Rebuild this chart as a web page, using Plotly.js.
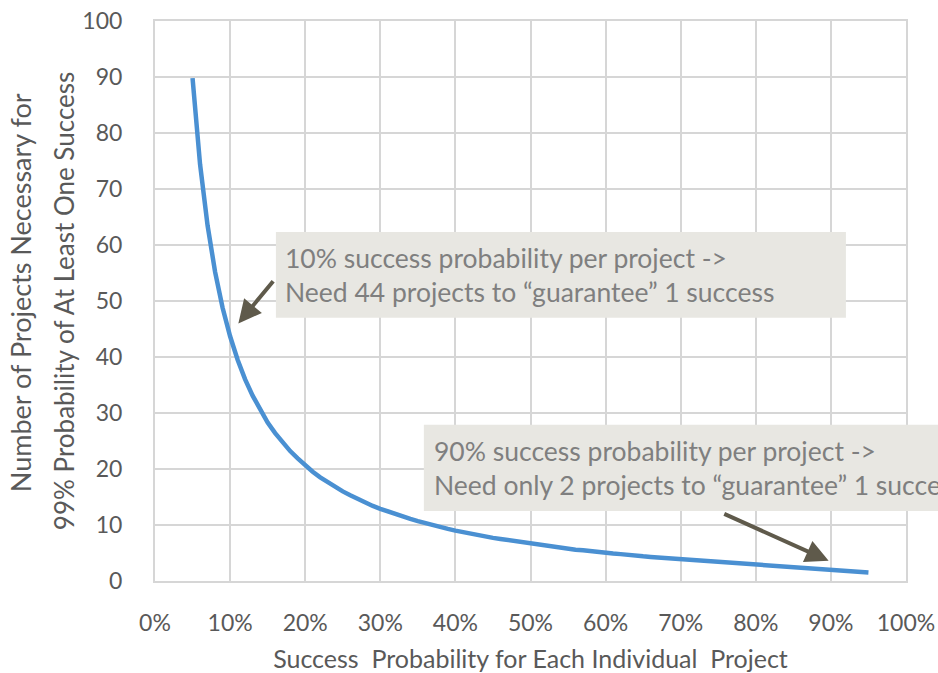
<!DOCTYPE html>
<html>
<head>
<meta charset="utf-8">
<script src="https://cdn.plot.ly/plotly-3.0.1.min.js"></script>
<style>html,body{margin:0;padding:0;background:#fff;}#chart{width:938px;height:673px;}</style>
</head>
<body>
<div id="chart"></div>
<script>
var successProb = [0.05,0.06,0.07,0.08,0.09,0.10,0.11,0.12,0.13,0.14,0.15,0.16,0.17,0.18,0.19,0.20,0.21,0.22,0.23,0.24,0.25,0.26,0.27,0.28,0.29,0.30,0.31,0.32,0.33,0.34,0.35,0.36,0.37,0.38,0.39,0.40,0.41,0.42,0.43,0.44,0.45,0.46,0.47,0.48,0.49,0.50,0.51,0.52,0.53,0.54,0.55,0.56,0.57,0.58,0.59,0.60,0.61,0.62,0.63,0.64,0.65,0.66,0.67,0.68,0.69,0.70,0.71,0.72,0.73,0.74,0.75,0.76,0.77,0.78,0.79,0.80,0.81,0.82,0.83,0.84,0.85,0.86,0.87,0.88,0.89,0.90,0.91,0.92,0.93,0.94,0.95];
var projectsNeeded = [89.8,74.4,63.5,55.2,48.8,43.7,39.5,36.0,33.1,30.5,28.3,26.4,24.7,23.2,21.9,20.6,19.5,18.5,17.6,16.8,16.0,15.3,14.6,14.0,13.4,12.9,12.4,11.9,11.5,11.1,10.7,10.3,10.0,9.6,9.3,9.0,8.7,8.5,8.2,7.9,7.7,7.5,7.3,7.0,6.8,6.6,6.5,6.3,6.1,5.9,5.8,5.6,5.5,5.3,5.2,5.0,4.9,4.8,4.6,4.5,4.4,4.3,4.2,4.0,3.9,3.8,3.7,3.6,3.5,3.4,3.3,3.2,3.1,3.0,3.0,2.9,2.8,2.7,2.6,2.5,2.4,2.3,2.3,2.2,2.1,2.0,1.9,1.8,1.7,1.6,1.5];
var xTickVals = [0,0.1,0.2,0.3,0.4,0.5,0.6,0.7,0.8,0.9,1.0];
var xTickText = ["0%","10%","20%","30%","40%","50%","60%","70%","80%","90%","100%"];
var yTickVals = [0,10,20,30,40,50,60,70,80,90,100];
var xTitle = "Success&nbsp; Probability for Each Individual&nbsp; Project";
var yTitleLine1 = "Number of Projects Necessary for";
var yTitleLine2 = "99% Probability of At Least One Success";
var note1 = "10% success probability per project -><br>Need 44 projects to “guarantee” 1 success";
var note2 = "90% success probability per project -><br>Need only 2 projects to “guarantee” 1 success";

var FONT = "Lato, Open Sans, sans-serif";
var trace = {
  x: successProb, y: projectsNeeded, type: "scatter", mode: "lines",
  line: {color: "#4a90d2", width: 4.5}, hoverinfo: "skip"
};
var layout = {
  width: 938, height: 673,
  margin: {l: 155, r: 32, t: 21, b: 92},
  paper_bgcolor: "#ffffff", plot_bgcolor: "#ffffff",
  showlegend: false,
  font: {family: FONT, color: "#595959"},
  xaxis: {
    range: [0, 1], tickvals: xTickVals, ticktext: xTickText,
    showgrid: true, gridcolor: "#d6d6d6", gridwidth: 2,
    showline: true, linecolor: "#d6d6d6", linewidth: 2, mirror: true,
    zeroline: false, ticks: "", ticklabelstandoff: 20,
    tickfont: {size: 23, color: "#595959", family: FONT},
    title: {text: xTitle, font: {size: 25, color: "#595959", family: FONT}, standoff: 16}
  },
  yaxis: {
    range: [0, 100], tickvals: yTickVals,
    showgrid: true, gridcolor: "#d6d6d6", gridwidth: 2,
    showline: true, linecolor: "#d6d6d6", linewidth: 2, mirror: true,
    zeroline: false, ticks: "", ticklabelstandoff: 26,
    tickfont: {size: 23, color: "#595959", family: FONT}
  },
  shapes: [
    {type: "rect", xref: "paper", yref: "paper", x0: 0.161, x1: 0.92, y0: 0.470, y1: 0.623, fillcolor: "#e8e7e2", line: {width: 0}, layer: "above"},
    {type: "rect", xref: "paper", yref: "paper", x0: 0.358, x1: 1.2, y0: 0.125, y1: 0.279, fillcolor: "#e8e7e2", line: {width: 0}, layer: "above"}
  ],
  annotations: [
    {xref: "paper", yref: "paper", x: -0.179, y: 0.515, text: yTitleLine1, showarrow: false, textangle: -90,
     xanchor: "center", yanchor: "middle", font: {size: 27, color: "#595959", family: FONT}},
    {xref: "paper", yref: "paper", x: -0.121, y: 0.50, text: yTitleLine2, showarrow: false, textangle: -90,
     xanchor: "center", yanchor: "middle", font: {size: 26, color: "#595959", family: FONT}},
    {xref: "x", yref: "y", x: 0.171, y: 54.7, text: note1, showarrow: false, xanchor: "left", yanchor: "middle", align: "left",
     font: {size: 26.5, color: "#7f7f7f", family: FONT}},
    {xref: "x", yref: "y", x: 0.369, y: 20.2, text: note2, showarrow: false, xanchor: "left", yanchor: "middle", align: "left",
     font: {size: 26.5, color: "#7f7f7f", family: FONT}},
    {xref: "x", yref: "y", axref: "x", ayref: "y", x: 0.111, y: 46.0, ax: 0.159, ay: 53.8, text: "", showarrow: true,
     arrowhead: 2, arrowsize: 1.15, arrowwidth: 4, arrowcolor: "#5f5a4b"},
    {xref: "x", yref: "y", axref: "x", ayref: "y", x: 0.897, y: 3.6, ax: 0.756, ay: 12.1, text: "", showarrow: true,
     arrowhead: 2, arrowsize: 1.15, arrowwidth: 4, arrowcolor: "#5f5a4b"}
  ]
};
Plotly.newPlot("chart", [trace], layout, {displayModeBar: false, staticPlot: true});
</script>
</body>
</html>
